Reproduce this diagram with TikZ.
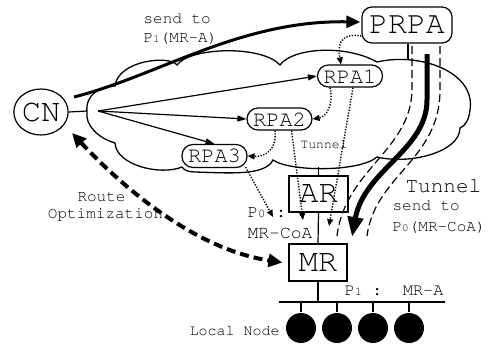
\documentclass[tikz,border=0pt]{standalone}
\usepackage[T1]{fontenc}
\usetikzlibrary{arrows.meta,shapes.geometric}
\newcommand\cour{\fontencoding{T1}\fontfamily{pcr}\selectfont}
\newcommand\fs[1]{\fontsize{#1}{#1}\selectfont}
\newcommand\sd[2]{{\fs{#1}#2}}
\begin{document}
\begin{tikzpicture}[x=1pt,y=-1pt,line width=1.2pt,
  pill/.style={draw, rounded corners=11pt, minimum width=65pt, minimum height=22pt, inner sep=0pt, font=\cour\fs{22}},
  boxn/.style={draw, minimum width=59pt, minimum height=36pt, inner sep=0pt, font=\cour\fs{32}},
  lnode/.style={circle, fill=black, minimum size=30pt, inner sep=0pt},
  lbl/.style={anchor=base west, inner sep=0pt, font=\cour\fs{16}},
  thinarr/.style={-{Triangle[length=9pt,width=6pt]}, line width=1.2pt},
  dotarr/.style={-{Triangle[length=7pt,width=6pt]}, line width=1.4pt, dash pattern=on 1.3pt off 1.5pt},
  thickarr/.style={-{Triangle[length=14pt,width=12pt]}, line width=3pt},
  tunarr/.style={-{Triangle[length=20pt,width=15pt]}, line width=5pt},
  tundash/.style={line width=1.2pt, dash pattern=on 8pt off 4pt},
  roarr/.style={{Triangle[length=14pt,width=13pt]}-{Triangle[length=14pt,width=13pt]}, line width=4pt, dash pattern=on 9pt off 5pt},
  cloud/.style={line width=1.3pt}]
\useasboundingbox (0,0) rectangle (490,343);

% cloud
\draw[cloud] (87,112) .. controls (85,95) and (100,86) .. (115,86)
 .. controls (118,60) and (170,55) .. (177,65)
 .. controls (190,47) and (262,45) .. (280,65)
 .. controls (292,48) and (345,44) .. (377,62)
 .. controls (420,52) and (476,72) .. (470,110)
 .. controls (469,120) and (465,126) .. (460,128)
 .. controls (460,152) and (410,165) .. (377,157)
 .. controls (360,172) and (290,172) .. (273,160)
 .. controls (265,176) and (230,173) .. (195,172)
 .. controls (188,172) and (184,170) .. (182,167)
 .. controls (160,176) and (116,165) .. (115,143)
 .. controls (98,138) and (85,125) .. (87,112) -- cycle;

% nodes
\node[ellipse, draw, minimum width=52pt, minimum height=46pt, inner sep=0pt, font=\cour\fs{32}] (cn) at (41,112) {CN};
\node[draw, rounded corners=10pt, minimum width=90pt, minimum height=36pt, inner sep=0pt, font=\cour\fs{31.5}] (prpa) at (407,25) {PRPA};
\node[pill, fill=white] (rpa1) at (350,76) {RPA1};
\node[pill, fill=white] (rpa2) at (279.5,119) {RPA2};
\node[pill, fill=white, minimum height=23pt] (rpa3) at (214.5,156) {RPA3};
\node[boxn, fill=white] (ar) at (318.5,194) {AR};
\node[boxn, fill=white, minimum width=58pt, minimum height=37pt] (mr) at (318,262.5) {MR};

\foreach \i/\x in {1/301,2/337,3/373,4/409} \node[lnode] (l\i) at (\x,328) {};

% coordinates
\coordinate (cloudL) at (87,111);
\coordinate (cloudB) at (318.5,167);
\coordinate (cloudT) at (408,60);
\coordinate (busL) at (279,302);
\coordinate (busR) at (445,302);
\coordinate (busM) at (318,302);
\coordinate (src) at (98,111);
\coordinate (s0) at (74,97);
\coordinate (roA) at (72,133);
\coordinate (d1) at (273,217);
\coordinate (d2) at (303,220);
\coordinate (d3) at (329,226);
\coordinate (tk0) at (427,54);
\coordinate (tk1) at (352,237);
\coordinate (tl0) at (412,46);
\coordinate (tl1) at (337,236);
\coordinate (tr0) at (440,46);
\coordinate (tr1) at (367,236);

% plain connectors
\draw (cn.east) -- (cloudL);
\draw (cloudB) -- (ar.north);
\draw (ar.south) -- (mr.north);
\draw (mr.south) -- (busM);
\draw ([xshift=1pt]prpa.south) -- (cloudT);
\draw[line width=1.5pt] (busL) -- (busR);
\foreach \i in {1,...,4} \draw[line width=1.3pt] (l\i.north) -- (l\i.north |- busM);

% thin arrows
\draw[thinarr] (src) -- (rpa1.west);
\draw[thinarr] (src) -- (rpa2.west);
\draw[thinarr] (src) -- (rpa3.north);

% dotted curved arrows
\draw[dotarr] ([yshift=-11pt]prpa.west) .. controls (338,32) and (338,48) .. ([xshift=-9pt]rpa1.north);
\draw[dotarr] ([xshift=-20pt]rpa1.south) .. controls (334,105) and (326,117) .. (rpa2.east);
\draw[dotarr] ([xshift=-4.5pt]rpa2.south) .. controls (277,150) and (265,157) .. (rpa3.east);

% dotted straight arrows
\draw[dotarr] ([xshift=-2pt,yshift=1pt]rpa3.south east) -- (d1);
\draw[dotarr] ([xshift=12pt]rpa2.south) -- (d2);
\draw[dotarr] ([xshift=3pt]rpa1.south) -- (d3);

% CN -> PRPA
\draw[thickarr] (s0) .. controls (160,75) and (240,20) .. ([yshift=3pt,xshift=-1pt]prpa.west);

% tunnel
\draw[tundash] (tl0) -- (412,90) .. controls (411,150) and (345,170) .. (tl1);
\draw[tundash] (tr0) -- (440,90) .. controls (440,160) and (375,175) .. (tr1);
\draw[tunarr] (tk0) -- (427,100) .. controls (427,150) and (364,170) .. (tk1);

% route optimization
\draw[roarr] (roA) .. controls (130,195) and (200,250) .. ([xshift=-6pt]mr.west);

% labels
\node[lbl] (t1) at (143,23) {send to};
\node[lbl] (t2) at (143,42) {P\sd{11}{1}(MR-A)};
\node[lbl, anchor=base] (t3) at (101.5,201.5) {Route};
\node[lbl, anchor=base] (t4) at (105.5,218) {Optimization};
\node[lbl, font=\cour\fs{17.5}] (t5) at (247,217) {P\sd{12}{0} :};
\node[lbl, font=\cour\fs{18}] (t6) at (247,238) {MR-CoA};
\node[lbl, font=\cour\fs{13}] (t7) at (300,148) {Tunnel};
\node[lbl, font=\cour\fs{21}] (t8) at (405,192) {Tunnel};
\node[lbl] (t9) at (392,210) {send to};
\node[lbl] (t10) at (392,231) {P\sd{11}{0}(MR-CoA)};
\node[lbl, font=\cour\fs{17}] (t11) at (344,295) {P\sd{12}{1} : MR-A};
\node[lbl, font=\cour\fs{15}] (t12) at (189,335) {Local Node};
\end{tikzpicture}
\end{document}
